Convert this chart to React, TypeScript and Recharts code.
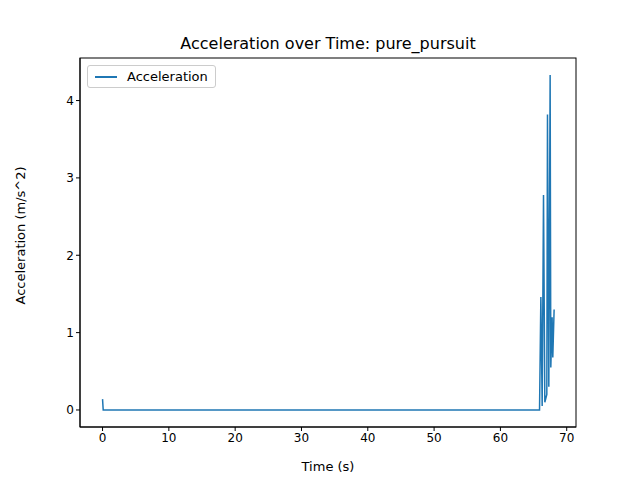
import { Line, LineChart, XAxis, YAxis } from 'recharts';

const times = [0, 0.1, 10, 20, 30, 40, 50, 60, 65.9, 66.1, 66.3, 66.5, 66.7, 67.0, 67.1, 67.3, 67.5, 67.6, 67.8, 67.9, 68.1];
const accel = [0.14, 0, 0, 0, 0, 0, 0, 0, 0, 1.46, 0.05, 2.78, 0.1, 0.2, 3.82, 0.3, 4.33, 0.55, 1.2, 0.68, 1.3];
const xTicks = [0, 10, 20, 30, 40, 50, 60, 70];
const yTicks = [0, 1, 2, 3, 4];

const data = times.map((t, i) => ({ t, a: accel[i] }));
const font = 'DejaVu Sans, sans-serif';

export default function App() {
  return (
    <div style={{ width: 640, height: 480, position: 'relative', fontFamily: font, margin: -8 }}>
      <div style={{ position: 'absolute', top: 34, left: 80, width: 496, textAlign: 'center', fontSize: 16 }}>
        Acceleration over Time: pure_pursuit
      </div>
      <LineChart width={640} height={480} data={data} margin={{ top: 58, right: 64, bottom: 23, left: 20 }}>
        <XAxis dataKey="t" type="number" domain={[-3.4, 71.4]} ticks={xTicks} allowDataOverflow
          tick={{ fontSize: 12, fill: '#000', fontFamily: font }} stroke="#000" tickSize={4}
          label={{ value: 'Time (s)', position: 'insideBottom', offset: -14, fontSize: 13, fill: '#000', fontFamily: font }} />
        <YAxis type="number" domain={[-0.22, 4.55]} ticks={yTicks} allowDataOverflow width={60}
          tick={{ fontSize: 12, fill: '#000', fontFamily: font }} stroke="#000" tickSize={4}
          label={{ value: 'Acceleration (m/s^2)', angle: -90, position: 'insideLeft', offset: 0, dy: 62, dx: 0, fontSize: 13, fill: '#000', fontFamily: font }} />
        <Line dataKey="a" name="Acceleration" stroke="#1f77b4" strokeWidth={1.5} dot={false} isAnimationActive={false} />
        <rect x={80} y={58} width={496} height={369} fill="none" stroke="#000" />
      </LineChart>
      <div style={{ position: 'absolute', top: 65, left: 87, border: '1px solid #ccc', borderRadius: 3, padding: '3px 7px', background: '#fff', fontSize: 13, display: 'flex', alignItems: 'center' }}>
        <span style={{ display: 'inline-block', width: 22, height: 2, background: '#1f77b4', marginRight: 10 }} />
        Acceleration
      </div>
    </div>
  );
}
